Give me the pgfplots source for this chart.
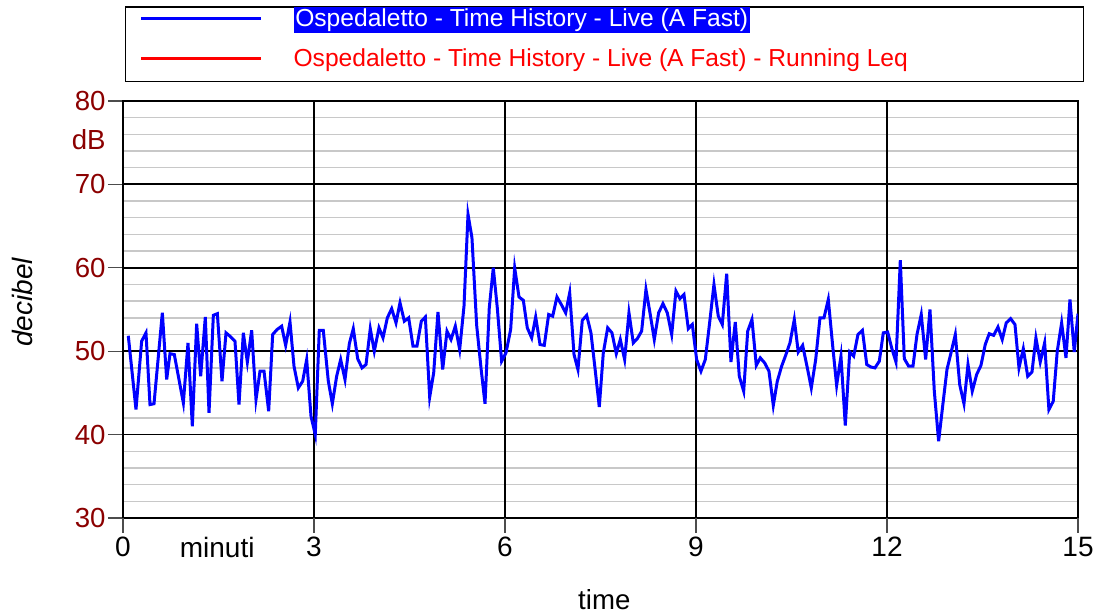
\documentclass[border=0pt]{standalone}
\usepackage{pgfplots}
\pgfplotsset{compat=1.18}
\usepackage{fontspec}
\setmainfont{Liberation Sans}
\definecolor{tickred}{RGB}{139,0,0}
\definecolor{minorgray}{RGB}{200,200,200}
\setlength{\fboxsep}{0.85pt}
\begin{document}
\begin{tikzpicture}
\begin{axis}[
  name=ax,
  at={(0,0)}, anchor=south west,
  scale only axis, width=477.5pt, height=208.5pt,
  xmin=0, xmax=15, ymin=30, ymax=80,
  xtick={0,1.48,3,6,9,12,15}, xticklabels={0,minuti,3,6,9,12,15},
  ytick={30,40,50,60,70,80},
  minor ytick={32,34,36,38,42,44,46,48,52,54,56,58,62,64,66,68,72,74,76,78},
  xmajorgrids=false, ymajorgrids=true, yminorgrids=true,
  major grid style={black, line width=0.9pt},
  minor grid style={minorgray, line width=0.7pt},
  tick align=outside, tick pos=left,
  major tick length=7.5pt, minor tick length=0pt,
  ytick style={black!70, line width=0.6pt},
  xtick style={draw=none},
  axis line style={black, line width=1pt},
  /pgf/number format/assume math mode=true,
  yticklabel style={text=tickred, inner sep=1pt, font=\fontsize{13.8}{16}\selectfont},
  xticklabel style={text=black, inner sep=2pt, font=\fontsize{14}{16}\selectfont},
  extra x ticks={0,3,6,9,12,15}, extra x tick labels={},
  extra x tick style={grid=major, xtick style={draw=black!70, line width=0.6pt}},
  extra y ticks={75.4}, extra y tick labels={dB},
  extra y tick style={grid=none, ytick style={draw=none}},
  xlabel={time},
  xlabel style={font=\fontsize{13.8}{16}\selectfont, inner sep=1pt, at={(axis description cs:0.504,0)}, anchor=center, yshift=-41pt},
  ylabel={\itshape decibel},
  ylabel style={font=\fontsize{14}{16}\selectfont, inner sep=1pt, at={(axis description cs:-0.105,0.517)}, anchor=center},
  legend style={at={(axis description cs:0,1)}, anchor=south west, xshift=1pt, yshift=9.5pt,
    draw=black, line width=0.6pt, inner xsep=7pt, inner ysep=0pt, row sep=6.5pt, column sep=15.5pt,
    nodes={inner sep=0pt, text depth=},
    font=\fontsize{12.3}{14}\selectfont, cells={anchor=base west}},
  legend image code/.code={\draw[#1, line width=1.5pt] (0pt,4pt) -- (60pt,4pt);},
]
\addplot[blue, line width=1.5pt] coordinates {
(0.083,51.85) (0.204,43.0) (0.293,51.2) (0.361,52.2) (0.424,43.6) (0.487,43.7)
(0.618,54.6) (0.686,46.6) (0.738,49.7) (0.806,49.6) (0.948,43.8) (1.021,51.0)
(1.089,41.0) (1.157,53.3) (1.220,47.0) (1.293,54.1) (1.351,42.6) (1.419,54.3)
(1.482,54.5) (1.555,46.4) (1.618,52.2) (1.680,51.8) (1.759,51.2) (1.822,43.6)
(1.890,52.2) (1.953,48.7) (2.021,52.5) (2.089,44.2) (2.152,47.6) (2.215,47.6)
(2.288,42.8) (2.351,52.0) (2.42,52.6) (2.492,53.0) (2.555,50.7) (2.623,53.5)
(2.686,48.2) (2.754,45.6) (2.822,46.4) (2.885,49.0) (2.953,42.2) (3.020,40.0)
(3.083,52.5) (3.146,52.5) (3.225,46.4) (3.288,43.7) (3.356,47.0) (3.419,49.0)
(3.487,46.6) (3.555,50.9) (3.617,52.7) (3.686,49.1) (3.754,48.0) (3.817,48.4)
(3.884,52.7) (3.947,50.0) (4.021,52.8) (4.084,51.6) (4.152,54.0) (4.220,55.1)
(4.288,53.4) (4.351,55.8) (4.419,53.6) (4.487,54.0) (4.555,50.6) (4.617,50.6)
(4.686,53.6) (4.749,54.1) (4.817,44.5) (4.880,47.4) (4.947,54.7) (5.021,47.8)
(5.089,52.4) (5.152,51.4) (5.220,53.0) (5.288,50.2) (5.356,55.4) (5.419,66.4)
(5.481,63.6) (5.555,53.1) (5.623,48.0) (5.686,43.7) (5.753,55.2) (5.816,60.0)
(5.879,55.2) (5.947,48.8) (6.015,49.8) (6.089,52.6) (6.152,60.0) (6.220,56.5)
(6.288,56.1) (6.350,52.8) (6.419,51.6) (6.482,54.1) (6.550,50.8) (6.617,50.7)
(6.686,54.4) (6.749,54.2) (6.816,56.5) (6.884,55.6) (6.953,54.6) (7.016,57.0)
(7.084,49.6) (7.146,47.8) (7.214,53.7) (7.283,54.3) (7.350,52.2) (7.413,48.0)
(7.481,43.3) (7.544,49.8) (7.613,52.8) (7.680,52.2) (7.748,49.7) (7.811,51.4)
(7.879,49.0) (7.947,54.6) (8.015,51.0) (8.078,51.5) (8.146,52.4) (8.214,57.4)
(8.277,54.6) (8.345,51.4) (8.413,54.6) (8.481,55.7) (8.549,54.6) (8.618,52.0)
(8.685,57.2) (8.748,56.3) (8.811,56.8) (8.879,52.7) (8.942,53.2) (9.010,49.0)
(9.078,47.6) (9.146,49.0) (9.214,53.4) (9.282,58.0) (9.350,54.2) (9.413,53.2)
(9.482,59.3) (9.549,48.7) (9.617,53.5) (9.680,47.0) (9.749,45.2) (9.812,52.4)
(9.879,53.8) (9.947,48.3) (10.010,49.2) (10.078,48.6) (10.146,47.6) (10.214,43.5)
(10.277,46.4) (10.345,48.2) (10.413,49.6) (10.476,51.0) (10.544,53.8) (10.606,49.9)
(10.675,50.7) (10.743,48.2) (10.811,45.6) (10.880,49.0) (10.947,54.0) (11.010,54.0)
(11.078,56.2) (11.146,50.7) (11.209,45.9) (11.277,49.4) (11.345,41.1) (11.414,49.9)
(11.476,49.4) (11.544,52.0) (11.614,52.5) (11.682,48.4) (11.748,48.1) (11.811,48.0)
(11.879,48.8) (11.942,52.2) (12.010,52.3) (12.073,50.4) (12.141,48.7) (12.209,60.9)
(12.272,49.1) (12.340,48.2) (12.408,48.2) (12.471,52.0) (12.538,54.4) (12.607,49.0)
(12.675,55.0) (12.743,45.2) (12.811,39.2) (12.874,43.4) (12.942,47.8) (13.005,49.8)
(13.073,52.0) (13.142,46.0) (13.209,43.7) (13.272,48.4) (13.339,45.2) (13.408,47.2)
(13.476,48.3) (13.543,50.8) (13.606,52.1) (13.675,51.9) (13.743,52.9) (13.810,51.4)
(13.873,53.4) (13.942,53.9) (14.010,53.2) (14.073,48.0) (14.141,50.3) (14.210,47.0)
(14.277,47.5) (14.339,51.6) (14.407,48.7) (14.476,51.0) (14.543,43.0) (14.611,44.0)
(14.674,50.0) (14.743,53.4) (14.811,49.2) (14.874,56.2) (14.941,49.9) (15.0,54.5)
};
\addlegendentry{\makebox[388pt][l]{\colorbox{blue}{\textcolor{white}{Ospedaletto - Time History - Live (A Fast)}}}}
\addlegendimage{red, line width=1.5pt}
\addlegendentry{\makebox[388pt][l]{\rule[-7.5pt]{0pt}{17.5pt}\textcolor{red}{Ospedaletto - Time History - Live (A Fast) - Running Leq}}}
\end{axis}
\pgfresetboundingbox
\path ([shift={(-61.5pt,-48pt)}]ax.south west) rectangle ([shift={(12pt,50.5pt)}]ax.north east);
\end{tikzpicture}%
\end{document}
